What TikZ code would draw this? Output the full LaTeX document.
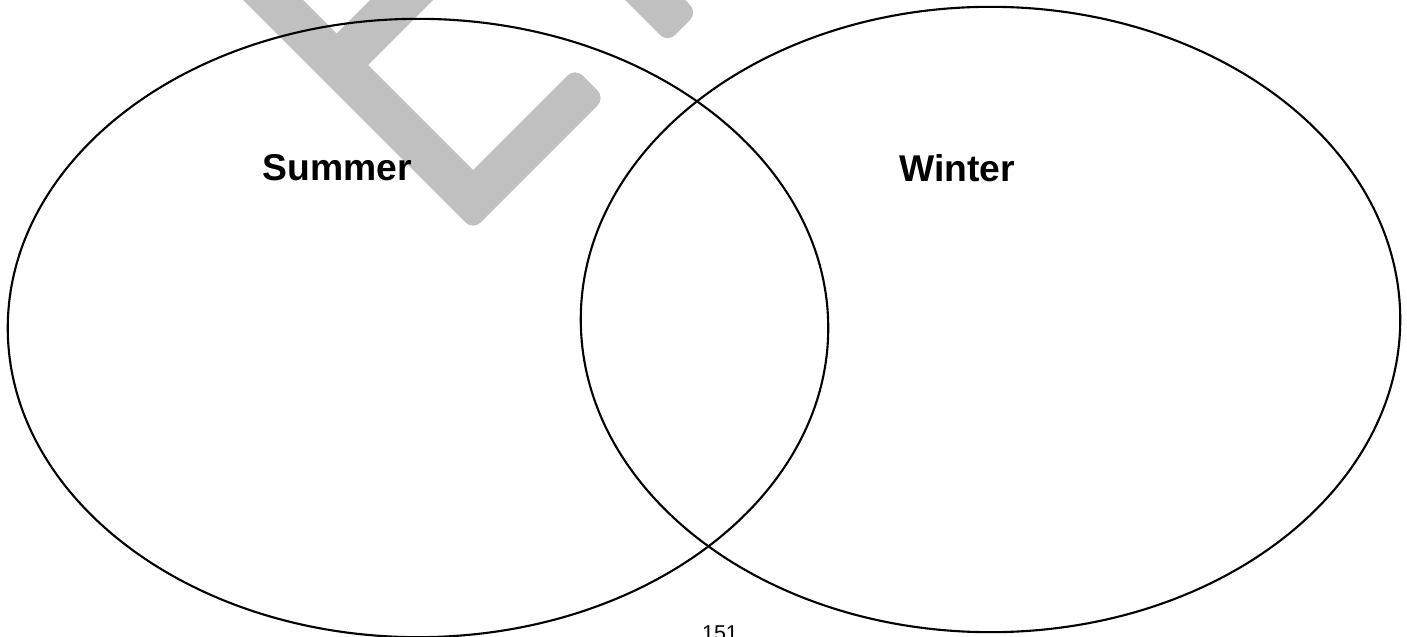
\documentclass[tikz,border=0pt]{standalone}
\usepackage{fontspec}
\setmainfont{Liberation Sans}
\definecolor{stamp}{RGB}{192,192,192}

\begin{document}
\begin{tikzpicture}[
  x=0.01cm, y=-0.01cm,
  outline/.style={draw=black,line width=0.6pt},
  watermark/.style={fill=stamp},
  setlabel/.style={font=\fontsize{10.6}{12}\selectfont\bfseries,inner sep=0pt},
  pagenum/.style={font=\fontsize{6.1}{7}\selectfont,inner sep=0pt,anchor=base}
]
  \useasboundingbox (0,0) rectangle (1407,637);
  \clip (0,0) rectangle (1407,637);

  \fill[watermark] (193,-50) -- (253,-50) -- (336.5,33.5) -- (420,-50) -- (483,-50)
    -- (368,65) -- (473,170) [rounded corners=3pt] -- (575,68) -- (605,98)
    -- (473,230) [sharp corners] -- cycle;
  \fill[watermark] (575,-50) [rounded corners=3pt] -- (667.5,42.5) -- (697.5,12.5)
    [sharp corners] -- (635,-50) -- cycle;

  \draw[outline] (418,328) ellipse [x radius=4.10cm, y radius=3.09cm];
  \draw[outline] (990.5,319.5) ellipse [x radius=4.095cm, y radius=3.125cm];

  \node[setlabel] (summer) at (337,168) {Summer};
  \node[setlabel] (winter) at (957,168) {Winter};
  \node[pagenum] (page) at (720,640) {151};
\end{tikzpicture}
\end{document}
